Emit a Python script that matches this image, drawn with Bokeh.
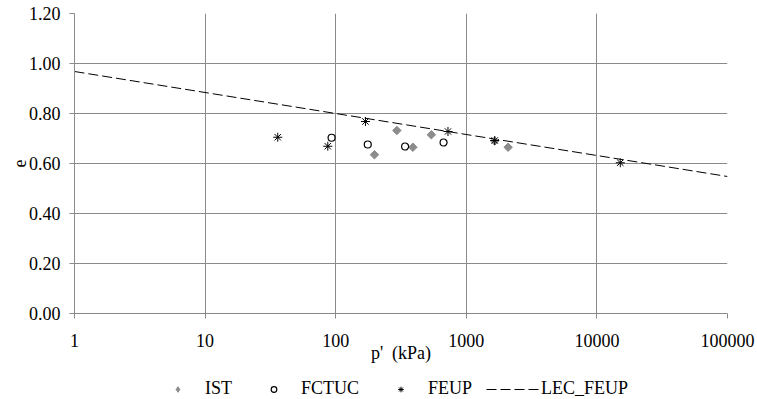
import math
from bokeh.plotting import figure
from bokeh.layouts import column
from bokeh.models import FixedTicker, NumeralTickFormatter, PrintfTickFormatter, Legend, LegendItem, Range1d
from bokeh.embed import file_html
from bokeh.resources import INLINE

# Data
ist_p = [198, 294, 390, 540, 1650, 2090]
ist_e = [0.635, 0.732, 0.665, 0.715, 0.690, 0.665]

fctuc_p = [93, 176, 340, 670]
fctuc_e = [0.703, 0.676, 0.668, 0.684]

feup_p = [36, 87, 169, 724, 1650, 15100]
feup_e = [0.705, 0.669, 0.768, 0.728, 0.692, 0.603]

lec_p = [1, 100000]
lec_e = [0.968, 0.548]

x_ticks = [1, 10, 100, 1000, 10000, 100000]
y_ticks = [0.0, 0.2, 0.4, 0.6, 0.8, 1.0, 1.2]
series_names = ["IST", "FCTUC", "FEUP", "LEC_FEUP"]

FONT = "Liberation Serif"
GRID = "#8a8a8a"
IST_COLOR = "#8c8c8c"

p = figure(width=757, height=369, x_axis_type="log",
           x_range=Range1d(1, 100000), y_range=Range1d(0, 1.2),
           output_backend="svg", toolbar_location=None,
           min_border_left=74, min_border_right=30,
           min_border_top=13, min_border_bottom=56)
p.outline_line_color = None
p.background_fill_color = "white"
p.border_fill_color = "white"

# axes
p.xaxis.ticker = FixedTicker(ticks=x_ticks, minor_ticks=[])
p.xaxis.formatter = PrintfTickFormatter(format="%d")
p.yaxis.ticker = FixedTicker(ticks=y_ticks, minor_ticks=[])
p.yaxis.formatter = NumeralTickFormatter(format="0.00")
for ax in (p.xaxis, p.yaxis):
    ax.axis_line_color = GRID
    ax.major_tick_line_color = GRID
    ax.major_tick_out = 5
    ax.major_tick_in = 0
    ax.minor_tick_line_color = None
    ax.major_label_text_font = FONT
    ax.major_label_text_font_size = "18px"
    ax.major_label_text_color = "black"
    ax.axis_label_text_font = FONT
    ax.axis_label_text_font_size = "18px"
    ax.axis_label_text_font_style = "normal"
    ax.axis_label_text_color = "black"
p.xaxis.axis_label = "p'\u00a0\u00a0(kPa)"
p.xaxis.major_label_standoff = 15
p.xaxis.axis_label_standoff = -7
p.yaxis.axis_label = "e"
p.yaxis.major_label_standoff = 9
p.yaxis.axis_label_standoff = 0

p.grid.grid_line_color = GRID
p.grid.grid_line_width = 1


def draw_series(fig, ist_marker, ist_angle, ist_size):
    r_lec = fig.line(lec_p, lec_e, line_color="black", line_width=1, line_dash="10 4")
    r_ist = fig.scatter(ist_p, ist_e, marker=ist_marker, angle=ist_angle, size=ist_size,
                        fill_color=IST_COLOR, line_color=IST_COLOR)
    r_fctuc = fig.scatter(fctuc_p, fctuc_e, marker="circle", size=7,
                          fill_color=None, line_color="black", line_width=1.2)
    r_feup = fig.scatter(feup_p, feup_e, marker="asterisk", size=9,
                         line_color="black", line_width=1.0)
    return [r_ist, r_fctuc, r_feup, r_lec]


draw_series(p, "square", math.pi / 4, 6)

# legend strip below the chart (same series, drawn out of view, used for the key)
lg = figure(width=757, height=30, x_axis_type="log",
            x_range=Range1d(1e8, 1e9), y_range=Range1d(10, 11),
            x_axis_location=None, y_axis_location=None,
            output_backend="svg", toolbar_location=None,
            min_border_left=0, min_border_right=0, min_border_top=0, min_border_bottom=0)
lg.grid.visible = False
lg.outline_line_color = None
lg.background_fill_color = "white"
lg.border_fill_color = "white"
renderers = draw_series(lg, "diamond", 0, 8)

legend = Legend(items=[LegendItem(label=n, renderers=[r]) for n, r in zip(series_names, renderers)],
                orientation="horizontal", location=(76, 0))
legend.label_text_font = FONT
legend.label_text_font_size = "18px"
legend.label_text_color = "black"
legend.glyph_width = 55
legend.glyph_height = 14
legend.label_height = 12
legend.label_standoff = 0
legend.spacing = 14
legend.padding = 0
legend.margin = 0
legend.border_line_color = None
legend.background_fill_alpha = 0
lg.add_layout(legend, "center")

layout = column(p, lg, spacing=0)
open("out.html", "w").write(file_html(layout, INLINE))
